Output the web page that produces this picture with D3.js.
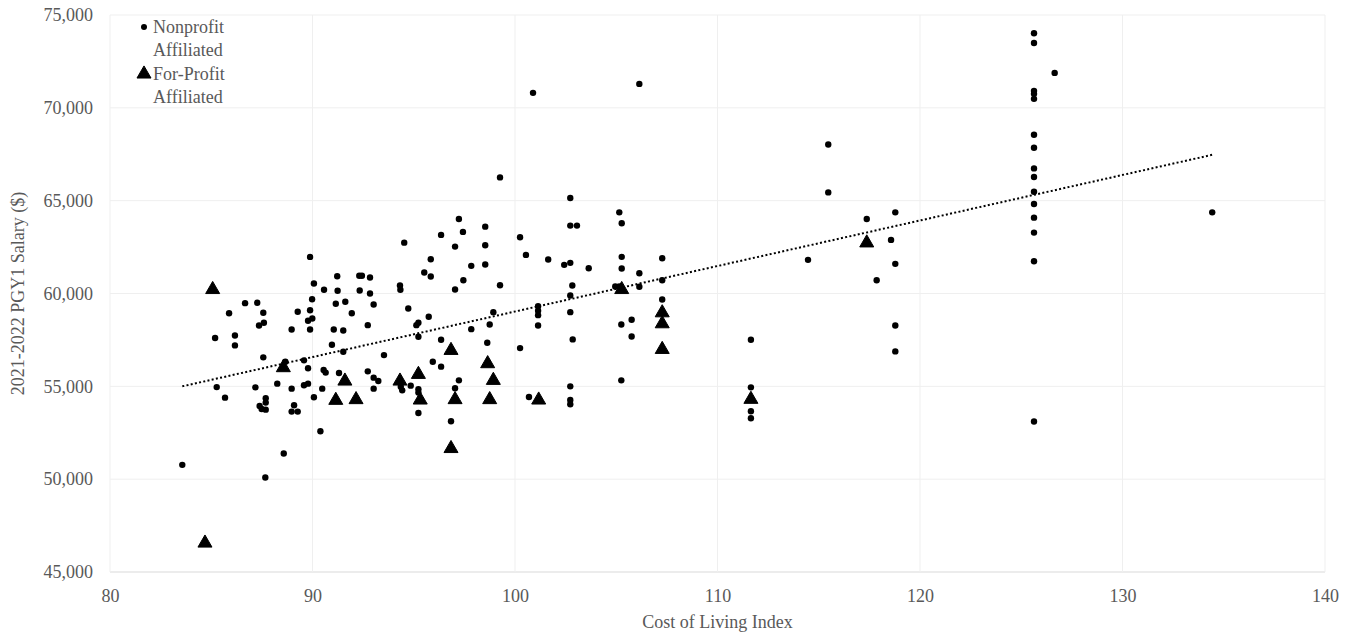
<!DOCTYPE html>
<html>
<head>
<meta charset="utf-8">
<script src="https://cdn.jsdelivr.net/npm/d3@7"></script>
<style>
  body { margin: 0; background: #fff; }
  svg { display: block; }
</style>
</head>
<body>
<svg></svg>
<script>
const x_ticks = [80, 90, 100, 110, 120, 130, 140];
const y_ticks = [45000, 50000, 55000, 60000, 65000, 70000, 75000];

// nonprofit affiliated programs (cost of living index, salary)
const nonprofit_col = [
  89.88, 91.22, 90.07, 90.57, 91.24, 86.67, 87.27, 89.98, 91.15, 91.62,
  85.88, 87.57, 89.27, 89.88, 89.78, 89.99, 87.36, 87.60, 88.97, 89.88,
  91.05, 91.52, 85.19, 86.17, 86.17, 90.96, 91.52, 87.57, 88.66, 89.58,
  89.78, 90.55, 90.65, 91.31, 85.27, 87.18, 88.26, 88.97, 89.58, 89.78,
  90.48, 85.68, 87.69, 87.69, 87.39, 87.49, 87.69, 89.09, 88.97, 89.27,
  90.07, 90.39, 88.58, 83.57, 87.67, 97.23, 98.53, 97.43, 96.35, 100.25,
  94.53, 97.04, 98.53, 100.54, 95.84, 98.53, 97.84, 95.52, 95.84, 92.31,
  92.44, 92.84, 97.45, 99.26, 94.32, 94.34, 97.04, 92.33, 92.84, 93.02,
  91.94, 94.73, 95.74, 98.93, 92.73, 95.13, 95.23, 98.75, 97.84, 95.23,
  96.35, 98.63, 100.25, 93.53, 95.94, 96.35, 92.73, 93.02, 93.25, 93.02,
  94.36, 94.43, 94.85, 95.23, 95.23, 95.23, 97.04, 97.23, 96.84, 100.69,
  99.26, 102.73, 105.15, 102.73, 103.06, 105.27, 101.64, 102.43, 102.73, 103.64,
  105.27, 105.27, 107.27, 106.14, 107.27, 102.83, 102.73, 104.95, 105.15, 106.14,
  107.27, 101.14, 101.14, 101.14, 101.14, 102.73, 105.25, 105.76, 105.76, 102.85,
  105.25, 102.73, 102.73, 102.73, 106.14, 100.89, 115.47, 115.47, 118.78, 117.37,
  118.57, 114.47, 118.78, 117.86, 118.78, 118.78,
  125.63, 125.63, 125.63, 125.63, 125.63, 125.63, 125.63, 125.63, 125.63, 125.63,
  125.63, 125.63, 125.63, 125.63, 125.63, 126.65,
  111.65, 111.65, 111.65, 111.65, 134.43
];
const nonprofit_salary = [
  61970, 60930, 60540, 60200, 60145, 59480, 59500, 59690, 59450, 59555,
  58940, 58960, 59015, 59100, 58530, 58655, 58280, 58425, 58065, 58065,
  58065, 58010, 57600, 57740, 57205, 57240, 56865, 56560, 56330, 56400,
  55970, 55880, 55740, 55715, 54960, 54945, 55145, 54875, 55055, 55145,
  54875, 54390, 54355, 54125, 53940, 53780, 53745, 53980, 53640, 53640,
  54410, 52580, 51380, 50770, 50090, 64015, 63600, 63317, 63156, 63030,
  62740, 62527, 62597, 62080, 61845, 61560, 61490, 61130, 60915, 60952,
  60952, 60860, 60715, 60446, 60430, 60200, 60215, 60162, 60000, 59410,
  58940, 59194, 58747, 58995, 58296, 58296, 58425, 58333, 58080, 57672,
  57510, 57350, 57060, 56683, 56328, 56060, 55807, 55468, 55285, 54876,
  54984, 54785, 55038, 54839, 54662, 53565, 54893, 55323, 53118, 54425,
  66253, 65145, 64371, 63656, 63656, 63780, 61828, 61543, 61650, 61360,
  61973, 61344, 61898, 61091, 60715, 60430, 59893, 60376, 60376, 60360,
  59678, 59317, 59070, 58834, 58280, 58995, 58333, 58586, 57688, 57527,
  55323, 55000, 54264, 54032, 71290, 70806, 68027, 65446, 64371, 64016,
  62887, 61812, 61597, 60715, 58280, 56882,
  74016, 73495, 70914, 70753, 70484, 68548, 67849, 66737, 66274, 65484,
  64823, 64086, 63280, 61737, 53102, 71882,
  57511, 54946, 53656, 53280, 64371
];

// for-profit affiliated programs
const forprofit_col = [
  85.07, 88.56, 91.60, 91.15, 92.15, 94.32, 95.23, 95.32, 96.84, 97.04,
  96.84, 98.65, 98.93, 98.75, 101.17, 105.27, 107.27, 107.27, 107.27, 111.65,
  117.37, 84.69
];
const forprofit_salary = [
  60215, 56006, 55285, 54247, 54285, 55285, 55645, 54264, 56936, 54285,
  51651, 56221, 55323, 54285, 54264, 60215, 58962, 58371, 56989, 54301,
  62726, 46559
];

// linear trendline at its two ends
const trend_col = [83.57, 134.43];
const trend_salary = [55000, 67470];

const width = 1354, height = 633;
const margin = { top: 15, right: 29, bottom: 61, left: 110 };
const text_grey = "#595959";
const font = "'Liberation Serif', 'Times New Roman', serif";

function zip(a, b) {
  return a.map((v, i) => [v, b[i]]);
}

var svg = d3.select("svg")
            .attr("width", width)
            .attr("height", height);

let x = d3.scaleLinear()
          .domain([80, 140])
          .range([margin.left, width - margin.right]);
let y = d3.scaleLinear()
          .domain([45000, 75000])
          .range([height - margin.bottom, margin.top]);

// gridlines
svg.append("g")
   .selectAll("line")
   .data(y_ticks)
   .enter()
   .append("line")
   .attr("x1", x(80)).attr("x2", x(140))
   .attr("y1", d => y(d)).attr("y2", d => y(d))
   .attr("stroke", d => d === 45000 ? "#d9d9d9" : "#efefef")
   .attr("stroke-width", 1);

svg.append("g")
   .selectAll("line")
   .data(x_ticks)
   .enter()
   .append("line")
   .attr("x1", d => x(d)).attr("x2", d => x(d))
   .attr("y1", y(75000)).attr("y2", y(45000))
   .attr("stroke", "#efefef")
   .attr("stroke-width", 1);

// axes, text only
let x_axis = svg.append("g")
   .attr("transform", "translate(0," + (height - margin.bottom) + ")")
   .call(d3.axisBottom(x).tickValues(x_ticks).tickSize(0).tickPadding(17));
let y_axis = svg.append("g")
   .attr("transform", "translate(" + margin.left + ",0)")
   .call(d3.axisLeft(y).tickValues(y_ticks).tickSize(0).tickPadding(17)
           .tickFormat(d3.format(",")));

[x_axis, y_axis].forEach(function(g) {
  g.select(".domain").remove();
  g.selectAll("text")
   .attr("fill", text_grey)
   .attr("font-family", font)
   .attr("font-size", 18);
});

svg.append("text")
   .attr("x", (x(80) + x(140)) / 2)
   .attr("y", 628)
   .attr("text-anchor", "middle")
   .attr("fill", text_grey)
   .attr("font-family", font)
   .attr("font-size", 18)
   .text("Cost of Living Index");

svg.append("text")
   .attr("transform", "translate(24," + (y(60000)) + ") rotate(-90)")
   .attr("text-anchor", "middle")
   .attr("fill", text_grey)
   .attr("font-family", font)
   .attr("font-size", 18)
   .text("2021-2022 PGY1 Salary ($)");

// trendline
svg.append("path")
   .datum(zip(trend_col, trend_salary))
   .attr("d", d3.line().x(d => x(d[0])).y(d => y(d[1])))
   .attr("fill", "none")
   .attr("stroke", "#000")
   .attr("stroke-width", 2)
   .attr("stroke-dasharray", "2,2.3");

// points
svg.append("g")
   .selectAll("circle")
   .data(zip(nonprofit_col, nonprofit_salary))
   .enter()
   .append("circle")
   .attr("cx", d => x(d[0]))
   .attr("cy", d => y(d[1]))
   .attr("r", 3.2)
   .attr("fill", "#000");

let tri = d3.symbol().type(d3.symbolTriangle).size(85);

svg.append("g")
   .selectAll("path")
   .data(zip(forprofit_col, forprofit_salary))
   .enter()
   .append("path")
   .attr("transform", d => "translate(" + x(d[0]) + "," + y(d[1]) + ")")
   .attr("d", tri)
   .attr("fill", "#000")
   .attr("stroke", "#000")
   .attr("stroke-width", 1)
   .attr("stroke-linejoin", "round");

// legend
let legend = svg.append("g");
legend.append("circle")
      .attr("cx", 144).attr("cy", 27).attr("r", 3)
      .attr("fill", "#000");
legend.append("path")
      .attr("transform", "translate(144,74)")
      .attr("d", tri)
      .attr("fill", "#000")
      .attr("stroke", "#000")
      .attr("stroke-width", 1)
      .attr("stroke-linejoin", "round");

[["Nonprofit", 33], ["Affiliated", 56], ["For-Profit", 80], ["Affiliated", 103]].forEach(function(t) {
  legend.append("text")
        .attr("x", 153)
        .attr("y", t[1])
        .attr("fill", text_grey)
        .attr("font-family", font)
        .attr("font-size", 18)
        .text(t[0]);
});
</script>
</body>
</html>
